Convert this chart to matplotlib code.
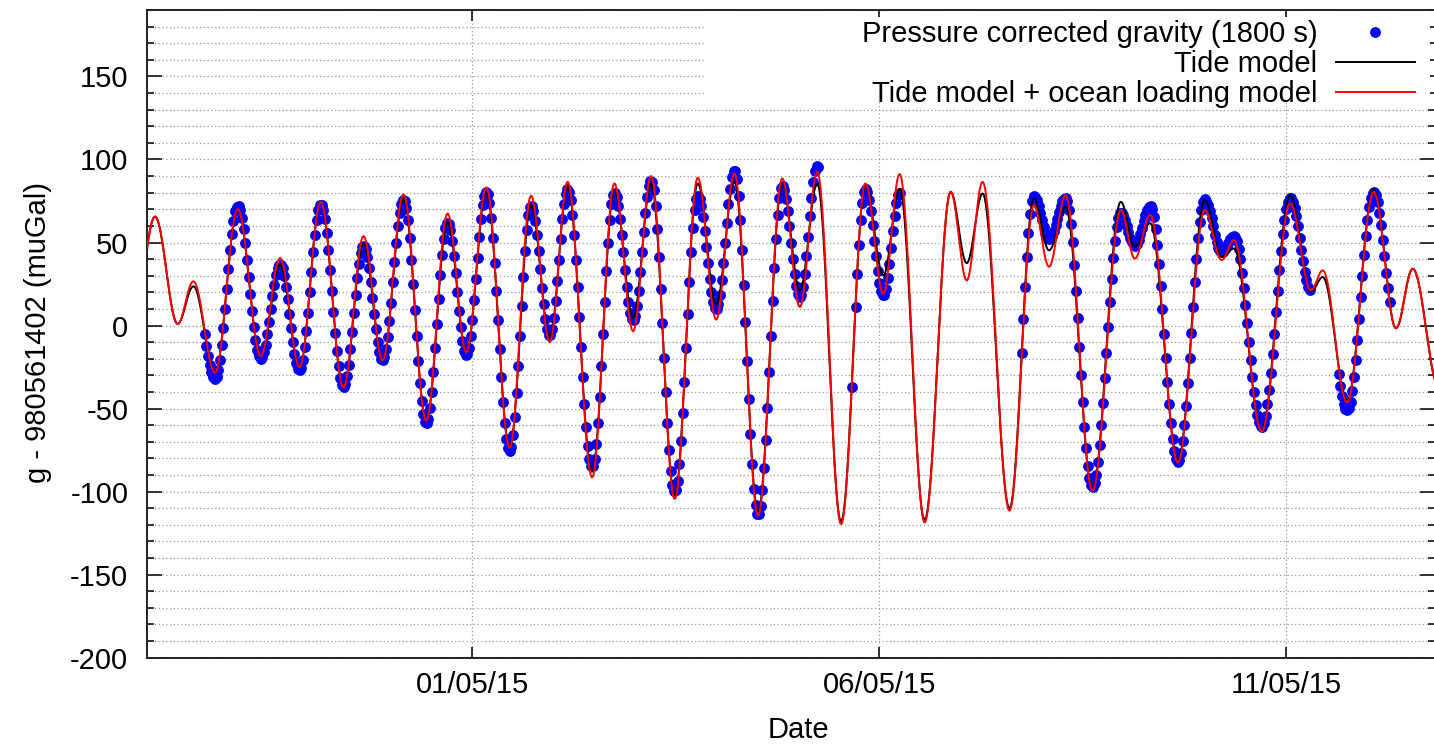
import numpy as np
import matplotlib
matplotlib.use("Agg")
import matplotlib.pyplot as plt
import matplotlib.dates as mdates
from matplotlib.ticker import MultipleLocator
from matplotlib.patches import Rectangle

plt.rcParams['font.family'] = ['Liberation Sans', 'DejaVu Sans']
plt.rcParams['axes.unicode_minus'] = False

# ---------------- data ----------------
START = np.datetime64('2015-04-27T00:00')
END = np.datetime64('2015-05-12T20:00')

# times of the highs / lows of the tidal signal (days after 27/04/15 00:00)
ext_days = np.array([
    -0.17, 0.098, 0.377, 0.57, 0.836, 1.115, 1.398, 1.636, 1.874, 2.136,
    2.415, 2.661, 2.894, 3.153, 3.432, 3.694, 3.924, 4.17, 4.457, 4.72,
    4.95, 5.17, 5.47, 5.744, 5.974, 6.196, 6.486, 6.769, 6.995, 7.22,
    7.51, 7.807, 8.024, 8.237, 8.53, 8.83, 9.05, 9.25, 9.557, 9.877,
    10.074, 10.27, 10.6, 10.9, 11.086, 11.29, 11.62, 11.968, 12.14, 12.33,
    12.67, 13.0, 13.206, 13.36, 13.70, 14.05, 14.305, 14.45, 14.75, 15.076,
    15.35, 15.556, 15.88])

tide_model = np.array([
    0.0, 65.6, 1.0, 23.6, -28.4, 70.0, -18.4, 36.6, -25.1, 74.5,
    -37.4, 49.4, -21.0, 76.5, -57.3, 62.4, -16.0, 80.5, -73.6, 72.5,
    -7.0, 83.5, -88.0, 81.5, 4.6, 85.5, -102.0, 85.5, 12.6, 86.5,
    -112.0, 85.5, 21.3, 85.5, -118.0, 84.0, 30.2, 82.5, -117.0, 80.5,
    37.6, 79.5, -110.0, 76.5, 45.3, 71.5, -98.5, 74.5, 47.4, 61.6,
    -81.0, 75.6, 41.4, 46.4, -63.0, 78.5, 20.2, 29.2, -45.0, 82.0,
    -1.6, 34.2, -37.3])

tide_ocean = np.array([
    0.0, 65.6, 1.0, 26.6, -28.4, 70.0, -18.4, 40.6, -25.1, 74.5,
    -37.4, 53.8, -21.0, 79.0, -57.3, 67.4, -16.0, 83.1, -73.6, 78.1,
    -10.0, 86.5, -91.4, 85.5, -3.4, 90.0, -104.4, 89.0, 3.6, 91.6,
    -114.5, 88.5, 11.2, 92.6, -119.5, 85.5, 19.2, 91.2, -118.5, 80.5,
    27.2, 86.5, -111.4, 72.5, 35.4, 78.5, -99.4, 69.6, 40.3, 66.6,
    -82.4, 69.6, 39.4, 51.4, -63.8, 73.5, 21.2, 33.2, -46.2, 80.5,
    -1.6, 34.2, -37.3])

observed = np.array([
    0.0, 65.0, 1.0, 25.0, -32.0, 72.0, -20.0, 37.0, -27.0, 73.0,
    -37.0, 48.0, -21.0, 76.0, -59.0, 62.0, -18.0, 80.5, -75.5, 72.0,
    -6.0, 82.0, -85.0, 80.0, 3.0, 87.5, -100.0, 78.0, 10.0, 93.5,
    -114.0, 84.0, 17.0, 96.5, -119.0, 82.0, 18.0, 80.0, -118.0, 80.0,
    37.0, 80.0, -111.0, 78.0, 52.0, 77.0, -97.0, 68.0, 48.0, 72.0,
    -82.0, 76.0, 44.0, 54.0, -61.0, 77.0, 21.0, 30.0, -51.0, 80.5,
    -1.6, 34.0, -37.0])

# periods with gravimeter data (days after 27/04/15), 1800 s sampling
obs_start_days = [0.69, 8.69, 10.74, 14.63]
obs_end_days = [8.27, 9.27, 14.30, 15.29]
outlier_days = [8.667]
outlier_values = [-37.0]

xtick_dates = ['2015-05-01', '2015-05-06', '2015-05-11']

labels = ['Pressure corrected gravity (1800 s)', 'Tide model',
          'Tide model + ocean loading model']


def tidal_shape(t_ext, v_ext, t):
    i = np.clip(np.searchsorted(t_ext, t, side='right') - 1, 0, len(t_ext) - 2)
    f = (t - t_ext[i]) / (t_ext[i + 1] - t_ext[i])
    w = 0.5 - 0.5 * np.cos(np.pi * f)
    return v_ext[i] + w * (v_ext[i + 1] - v_ext[i])


def to_dt(days):
    secs = np.round(np.asarray(days, dtype=float) * 86400).astype('int64')
    return START + secs.astype('timedelta64[s]')


# ---------------- figure ----------------
FS = 21
W, H = 1434, 744
fig = plt.figure(figsize=(W / 100, H / 100), dpi=100)
ax_l, ax_r, ax_t, ax_b = 147, 1435.3, 10, 657.7
ax = fig.add_axes([ax_l / W, 1 - ax_b / H, (ax_r - ax_l) / W, (ax_b - ax_t) / H])

span = (END - START) / np.timedelta64(1, 's') / 86400
t_line = np.arange(0, span + 1e-9, 1 / 288)

obs_t = np.arange(0, span, 1 / 48)
mask = np.zeros_like(obs_t, dtype=bool)
for s, e in zip(obs_start_days, obs_end_days):
    mask |= (obs_t >= s - 1e-6) & (obs_t <= e + 1e-6)
obs_t = obs_t[mask]
obs_v = tidal_shape(ext_days, observed, obs_t)

h_obs, = ax.plot(to_dt(obs_t), obs_v, linestyle='none', marker='o',
                 markersize=7.8, color='#0000ff', markeredgewidth=0,
                 zorder=3, label=labels[0])
ax.plot(to_dt(outlier_days), outlier_values, linestyle='none', marker='o',
        markersize=7.8, color='#0000ff', markeredgewidth=0, zorder=3)
h_blk, = ax.plot(to_dt(t_line), tidal_shape(ext_days, tide_model, t_line),
                 color='black', linewidth=1.4, zorder=4, label=labels[1])
h_red, = ax.plot(to_dt(t_line), tidal_shape(ext_days, tide_ocean, t_line),
                 color='#ff0000', linewidth=1.4, zorder=5, label=labels[2])

ax.set_xlim(START, END)
ax.set_ylim(-200, 190)

ax.set_xticks([np.datetime64(d) for d in xtick_dates])
ax.xaxis.set_major_formatter(mdates.DateFormatter('%d/%m/%y'))
ax.yaxis.set_major_locator(MultipleLocator(50))
ax.yaxis.set_minor_locator(MultipleLocator(10))

grid_kw = dict(linestyle=(0, (1, 2)), color='#9a9a9a', linewidth=0.9)
ax.set_axisbelow(True)
ax.grid(which='both', axis='y', **grid_kw)
ax.grid(which='major', axis='x', **grid_kw)

ax.tick_params(axis='both', which='both', direction='in', labelsize=FS,
               colors='black', width=1.1)
ax.tick_params(axis='y', which='major', length=10.5, pad=13.5, right=True)
ax.tick_params(axis='y', which='minor', length=5, right=True)
ax.tick_params(axis='x', which='major', length=8, pad=9.5, top=True)
for sp in ax.spines.values():
    sp.set_linewidth(1.4)
    sp.set_color('#222222')

# opaque key area
x0 = (705 - ax_l) / (ax_r - ax_l)
x1 = (1430 - ax_l) / (ax_r - ax_l)
y0 = 1 - (101 - ax_t) / (ax_b - ax_t)
y1 = 1 - (17 - ax_t) / (ax_b - ax_t)
ax.add_patch(Rectangle((x0, y0), x1 - x0, y1 - y0, transform=ax.transAxes,
                       facecolor='white', edgecolor='none', zorder=1.5))

y_leg = 1 - (20 - ax_t) / (ax_b - ax_t)
leg = ax.legend(handles=[h_obs, h_blk, h_red], loc='upper right',
                bbox_to_anchor=((1415 - ax_l) / (ax_r - ax_l), y_leg),
                markerfirst=False, frameon=False, fontsize=FS,
                handlelength=2.72, handletextpad=0.62, labelspacing=0.07,
                borderpad=0, borderaxespad=0, numpoints=1)
leg.set_zorder(6)

fig.text(38 / W, 1 - 333 / H, 'g - 980561402 (muGal)', rotation=90,
         ha='center', va='center', fontsize=FS)
fig.text(798 / W, 1 - 730 / H, 'Date', ha='center', va='center', fontsize=FS)

fig.savefig('out.png', dpi=100)
